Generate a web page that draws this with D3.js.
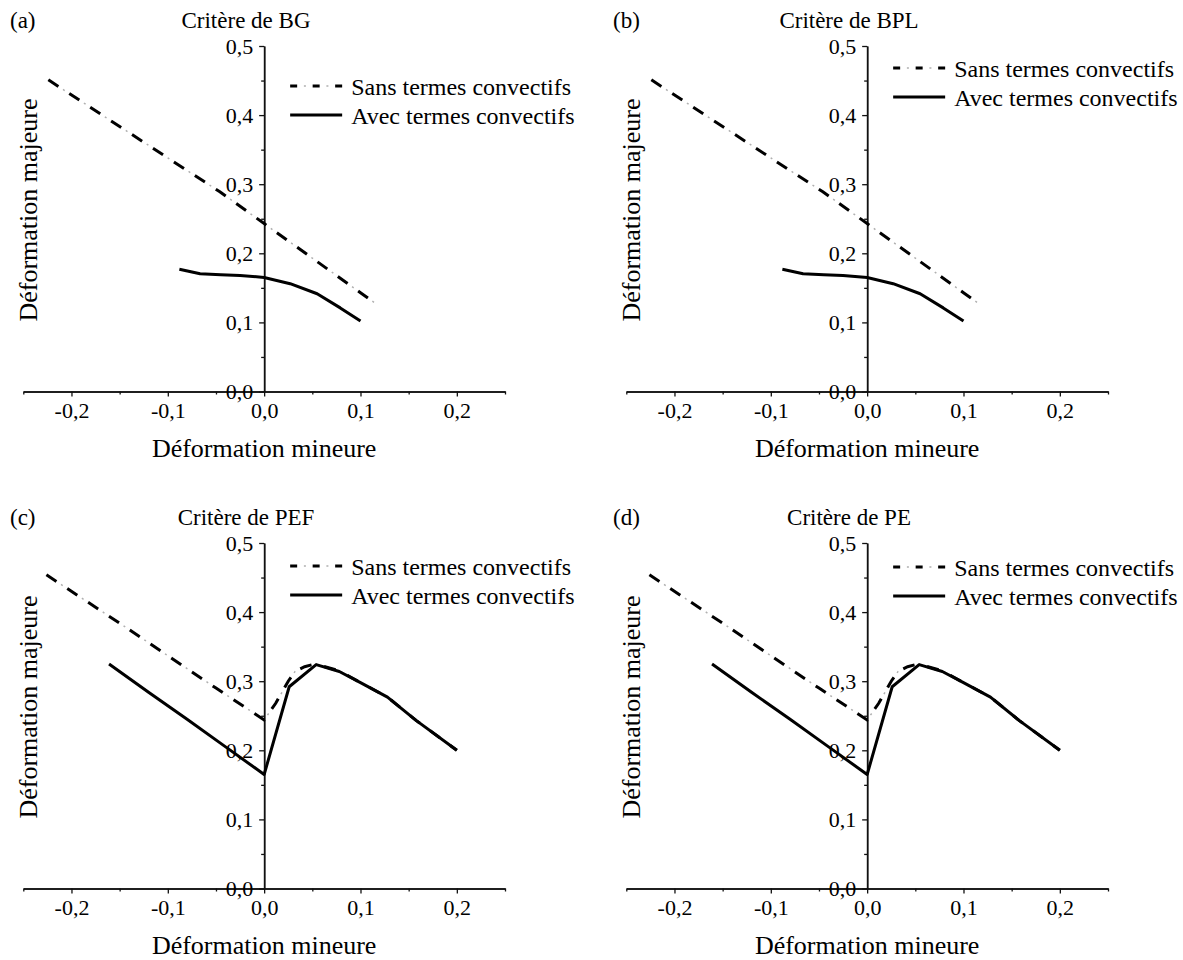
<!DOCTYPE html>
<head>
  <meta charset="utf-8">
  <script src="https://d3js.org/d3.v7.min.js"></script>
  <style>
    body { margin:0; padding:0; background:#fff; }
    text { font-family: "Liberation Serif", "Times New Roman", serif; fill:#000; }
  </style>
</head>
<body>
<svg id="chart" width="1183" height="960"></svg>
<script>
// ---- data ----
var panelTags   = ["(a)", "(b)", "(c)", "(d)"];
var panelTitles = ["Critère de BG", "Critère de BPL", "Critère de PEF", "Critère de PE"];
var seriesNames = ["Sans termes convectifs", "Avec termes convectifs"];

var xMajor = [-0.2, -0.1, 0.0, 0.1, 0.2];
var xMinor = [-0.25, -0.15, -0.05, 0.05, 0.15, 0.25];
var yMajor = [0.0, 0.1, 0.2, 0.3, 0.4, 0.5];
var yMinor = [0.05, 0.15, 0.25, 0.35, 0.45];

// minor strain, major strain
var bgSans  = [[-0.224,0.451],[-0.1,0.338],[-0.046,0.289],[0,0.243],[0.05,0.193],[0.1,0.143],[0.117,0.126]];
var bgAvec  = [[-0.088,0.177],[-0.0665,0.1705],[-0.045,0.169],[-0.025,0.168],[0,0.165],[0.027,0.156],[0.055,0.1415],[0.079,0.121],[0.1,0.102]];
var bplSans = [[-0.224,0.451],[-0.1,0.338],[-0.046,0.289],[0,0.243],[0.05,0.193],[0.1,0.143],[0.117,0.126]];
var bplAvec = [[-0.088,0.177],[-0.0665,0.1705],[-0.045,0.169],[-0.025,0.168],[0,0.165],[0.027,0.156],[0.055,0.1415],[0.079,0.121],[0.1,0.102]];
var pefSans = [[-0.226,0.454],[-0.15,0.384],[-0.1,0.337],[-0.05,0.29],[0,0.244],[0.012,0.268],[0.025,0.3],[0.032,0.314],[0.042,0.321],[0.053,0.325],[0.078,0.315],[0.1,0.298],[0.128,0.277],[0.158,0.243],[0.2,0.2]];
var pefAvec = [[-0.161,0.325],[-0.12,0.284],[-0.08,0.245],[-0.04,0.205],[0,0.165],[0.026,0.292],[0.054,0.324],[0.078,0.314],[0.1,0.298],[0.128,0.277],[0.158,0.243],[0.2,0.2]];
var peSans  = [[-0.226,0.454],[-0.15,0.384],[-0.1,0.337],[-0.05,0.29],[0,0.244],[0.012,0.268],[0.025,0.3],[0.032,0.314],[0.042,0.321],[0.053,0.325],[0.078,0.315],[0.1,0.298],[0.128,0.277],[0.158,0.243],[0.2,0.2]];
var peAvec  = [[-0.161,0.325],[-0.12,0.284],[-0.08,0.245],[-0.04,0.205],[0,0.165],[0.026,0.292],[0.054,0.324],[0.078,0.314],[0.1,0.298],[0.128,0.277],[0.158,0.243],[0.2,0.2]];

var sansData = [bgSans, bplSans, pefSans, peSans];
var avecData = [bgAvec, bplAvec, pefAvec, peAvec];

// ---- layout ----
var offsets = [[0,0],[603,0],[0,497],[603,497]];
var legendY = [86, 68, 69, 70];
var serif = '"Liberation Serif", "Times New Roman", serif';

var svg = d3.select("#chart");
var x = d3.scaleLinear().domain([-0.25, 0.25]).range([23.3, 505]);
var y = d3.scaleLinear().domain([0, 0.5]).range([391.5, 46]);
var fmt = function(d) { return d.toFixed(1).replace(".", ","); };
var line = d3.line().x(function(d){ return x(d[0]); }).y(function(d){ return y(d[1]); });

// dash-dot: black dashes with faint grey dots between
function dashDot(sel, d, dash, dot) {
  sel.append("path").attr("d", d).attr("fill","none").attr("stroke","#b0b0b0").attr("stroke-width",1.5)
    .attr("stroke-dasharray", dot[0]).attr("stroke-dashoffset", dot[1]);
  sel.append("path").attr("d", d).attr("fill","none").attr("stroke","#000").attr("stroke-width",3)
    .attr("stroke-dasharray", dash);
}

panelTags.forEach(function(tag, i) {
  var g = svg.append("g").attr("transform","translate(" + offsets[i][0] + "," + offsets[i][1] + ")");

  // x axis
  var xa = g.append("g").attr("transform","translate(0," + y(0) + ")");
  xa.call(d3.axisBottom(x).tickValues(xMajor).tickFormat(fmt).tickSize(5).tickPadding(6).tickSizeOuter(0));
  xa.append("g").call(d3.axisBottom(x).tickValues(xMinor).tickFormat("").tickSize(3).tickSizeOuter(0));

  // y axis
  var ya = g.append("g").attr("transform","translate(" + x(0) + ",0)");
  ya.call(d3.axisLeft(y).tickValues(yMajor).tickFormat(fmt).tickSize(5).tickPadding(6).tickSizeOuter(0));
  ya.append("g").call(d3.axisLeft(y).tickValues(yMinor).tickFormat("").tickSize(3).tickSizeOuter(0));

  xa.attr("font-family", serif).attr("font-size", 22);
  ya.attr("font-family", serif).attr("font-size", 22);
  g.selectAll(".domain").attr("stroke","#111").attr("stroke-width",1.5);
  g.selectAll(".tick line").attr("stroke","#111").attr("stroke-width",1.3);

  // curves
  dashDot(g.append("g"), line(sansData[i]), "12,13", ["2,23", 7.5]);
  g.append("path").attr("d", line(avecData[i])).attr("fill","none")
    .attr("stroke","#000").attr("stroke-width",3).attr("stroke-linejoin","round");

  // legend
  var ly = legendY[i], lx0 = x(0) + 26, lx1 = x(0) + 78;
  dashDot(g.append("g"), "M" + lx0 + "," + ly + "H" + lx1, "7,15.5", ["2,20.5", 8.75]);
  g.append("path").attr("d","M" + lx0 + "," + (ly+29) + "H" + lx1)
    .attr("stroke","#000").attr("stroke-width",3);
  g.selectAll(null).data(seriesNames).enter().append("text")
    .attr("x", x(0) + 87).attr("y", function(d, k){ return ly + k*29; })
    .attr("dy","0.36em").style("font-size","24px").text(function(d){ return d; });

  // tag, title, axis titles
  g.append("text").attr("x",10).attr("y",28).style("font-size","23px").text(tag);
  g.append("text").attr("x",246).attr("y",28).attr("text-anchor","middle").style("font-size","23px").text(panelTitles[i]);
  g.append("text").attr("x",x(0)).attr("y",457).attr("text-anchor","middle").style("font-size","26px").text("Déformation mineure");
  g.append("text").attr("transform","translate(37,210) rotate(-90)").attr("text-anchor","middle")
    .style("font-size","26px").text("Déformation majeure");
});
</script>
</body>
